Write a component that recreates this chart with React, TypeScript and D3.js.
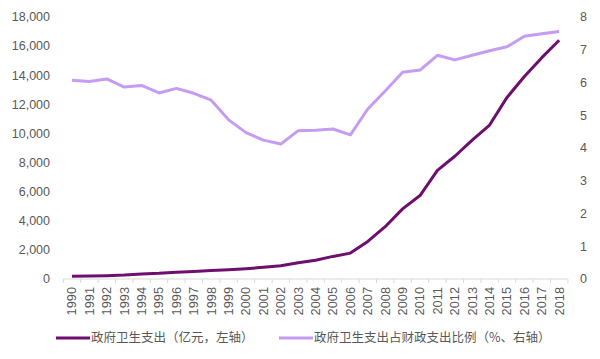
import React from "react";
import * as d3 from "d3";

const years = ["1990","1991","1992","1993","1994","1995","1996","1997","1998","1999","2000","2001","2002","2003","2004","2005","2006","2007","2008","2009","2010","2011","2012","2013","2014","2015","2016","2017","2018"];
const expenditure = [187.28,204.05,228.61,272.06,342.28,387.34,461.61,523.56,590.06,640.96,709.52,800.61,908.51,1116.94,1293.58,1552.53,1778.86,2581.58,3593.94,4816.26,5732.49,7464.18,8431.98,9545.81,10579.23,12475.28,13910.31,15205.87,16399.13];
const ratio = [6.07,6.03,6.11,5.86,5.91,5.68,5.82,5.67,5.46,4.86,4.47,4.24,4.12,4.53,4.54,4.58,4.40,5.19,5.74,6.31,6.38,6.83,6.69,6.83,6.97,7.09,7.41,7.49,7.56];
const leftTicks = [0,2000,4000,6000,8000,10000,12000,14000,16000,18000];
const rightTicks = [0,1,2,3,4,5,6,7,8];
const seriesNames = ["政府卫生支出（亿元，左轴）","政府卫生支出占财政支出比例（%、右轴）"];

const W = 600, H = 359;
const dark = "#6E0F70";
const light = "#C49CF2";
const font = "'Liberation Sans', Arial, sans-serif";
const cjk = "'Noto Sans CJK SC', 'Liberation Sans', sans-serif";

export default function App() {
  const x = d3.scaleBand<string>().domain(years).range([63.3, 567.9]);
  const yL = d3.scaleLinear().domain([0, 18000]).range([279, 17]);
  const yR = d3.scaleLinear().domain([0, 8]).range([279, 17]);
  const cx = (d: string) => (x(d) as number) + x.bandwidth() / 2;
  const lineL = d3.line<number>().x((_, i) => cx(years[i])).y(d => yL(d));
  const lineR = d3.line<number>().x((_, i) => cx(years[i])).y(d => yR(d));
  const fmt = d3.format(",");
  const boundaries = years.map(y => x(y) as number).concat([x.range()[1]]);

  return (
    <svg width={W} height={H} style={{ position: "absolute", left: 0, top: 0, background: "#fff" }}>
      {leftTicks.map(t => (
        <text key={"l" + t} x={50} y={yL(t)} dy="0.35em" textAnchor="end" fontFamily={font} fontSize={12.5} fill="#595959">{fmt(t)}</text>
      ))}
      {rightTicks.map(t => (
        <text key={"r" + t} x={580} y={yR(t)} dy="0.35em" textAnchor="start" fontFamily={font} fontSize={12.5} fill="#595959">{t}</text>
      ))}
      <line x1={x.range()[0]} x2={x.range()[1]} y1={279} y2={279} stroke="#d9d9d9" strokeWidth={1} />
      {boundaries.map((b, i) => (
        <line key={"t" + i} x1={b} x2={b} y1={279} y2={283} stroke="#d9d9d9" strokeWidth={1} />
      ))}
      {years.map(y => (
        <text key={y} transform={`translate(${cx(y)},${287}) rotate(-90)`} dy="0.35em" textAnchor="end" fontFamily={font} fontSize={12.8} fill="#595959">{y}</text>
      ))}
      <path d={lineR(ratio) as string} fill="none" stroke={light} strokeWidth={3} strokeLinejoin="round" />
      <path d={lineL(expenditure) as string} fill="none" stroke={dark} strokeWidth={3} strokeLinejoin="round" />
      <line x1={56} x2={90} y1={338} y2={338} stroke={dark} strokeWidth={3} />
      <text x={91} y={338} dy="0.35em" fontFamily={cjk} fontSize={12.5} fill="#595959">{seriesNames[0]}</text>
      <line x1={279} x2={313} y1={338} y2={338} stroke={light} strokeWidth={3} />
      <text x={314} y={338} dy="0.35em" fontFamily={cjk} fontSize={12.5} fill="#595959">{seriesNames[1]}</text>
    </svg>
  );
}
